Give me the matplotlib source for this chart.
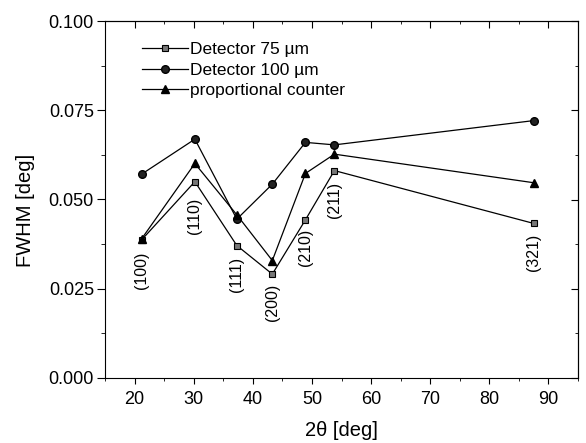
import matplotlib.pyplot as plt
from matplotlib.ticker import MultipleLocator

plt.rcParams['font.family'] = ['Liberation Sans', 'DejaVu Sans']

two_theta = [21.2, 30.2, 37.3, 43.3, 48.9, 53.8, 87.5]
hkl = ['(100)', '(110)', '(111)', '(200)', '(210)', '(211)', '(321)']
det75 = [0.0387, 0.0550, 0.0371, 0.0291, 0.0443, 0.0581, 0.0433]
det100 = [0.0571, 0.0669, 0.0445, 0.0543, 0.0660, 0.0653, 0.0721]
prop = [0.0390, 0.0601, 0.0457, 0.0329, 0.0573, 0.0627, 0.0547]
# label anchor (top of rotated text) in data units
label_y = [0.0355, 0.0505, 0.0338, 0.0265, 0.0418, 0.0548, 0.0405]

fig = plt.figure(figsize=(5.86, 4.43), dpi=100)
ax = fig.add_axes([105/586, 1-378/443, (578-105)/586, (378-21)/443])

ax.plot(two_theta, det75, color='black', lw=0.9, marker='s', ms=5,
        mfc='#777777', mec='black', mew=0.8, label='Detector 75 \u00b5m')
ax.plot(two_theta, det100, color='black', lw=0.9, marker='o', ms=5.5,
        mfc='#222222', mec='black', label='Detector 100 \u00b5m')
ax.plot(two_theta, prop, color='black', lw=0.9, marker='^', ms=6,
        mfc='black', mec='black', label='proportional counter')

for x, y, t in zip(two_theta, label_y, hkl):
    ax.text(x, y, t, rotation=90, ha='center', va='top', fontsize=11.5)

ax.set_xlim(15, 95)
ax.set_ylim(0, 0.1)
ax.xaxis.set_major_locator(MultipleLocator(10))
ax.xaxis.set_minor_locator(MultipleLocator(5))
ax.yaxis.set_major_locator(MultipleLocator(0.025))
ax.yaxis.set_minor_locator(MultipleLocator(0.0125))
ax.yaxis.set_major_formatter(plt.FormatStrFormatter('%.3f'))
ax.tick_params(which='both', direction='out', top=False, right=False, labelsize=13)
ax.tick_params(axis='x', which='major', length=4, pad=5)
ax.tick_params(axis='x', which='minor', length=2)
ax.tick_params(axis='y', which='major', length=6, pad=2)
ax.tick_params(axis='y', which='minor', length=3)
# mirrored inward ticks on top/right
sec_x = ax.secondary_xaxis('top')
sec_x.xaxis.set_major_locator(MultipleLocator(10))
sec_x.xaxis.set_minor_locator(MultipleLocator(5))
sec_x.tick_params(which='both', direction='in', labeltop=False)
sec_x.tick_params(which='major', length=5)
sec_x.tick_params(which='minor', length=2)
sec_y = ax.secondary_yaxis('right')
sec_y.yaxis.set_major_locator(MultipleLocator(0.025))
sec_y.yaxis.set_minor_locator(MultipleLocator(0.0125))
sec_y.tick_params(which='both', direction='in', labelright=False)
sec_y.tick_params(which='major', length=5)
sec_y.tick_params(which='minor', length=2)

ax.set_xlabel('2\u03b8 [deg]', fontsize=14.5)
ax.set_ylabel('FWHM [deg]', fontsize=14.5)
ax.xaxis.set_label_coords(0.5, -0.148)
ax.yaxis.set_label_coords(-0.169, 0.47)
ax.xaxis.label.set_va('center')
ax.yaxis.label.set_va('center')

ax.legend(loc='upper left', bbox_to_anchor=(0.052, 0.975), frameon=False,
          fontsize=12.5, handlelength=2.65, handletextpad=0.15, labelspacing=0.3,
          borderpad=0.2)

fig.savefig('out.png', dpi=100)
